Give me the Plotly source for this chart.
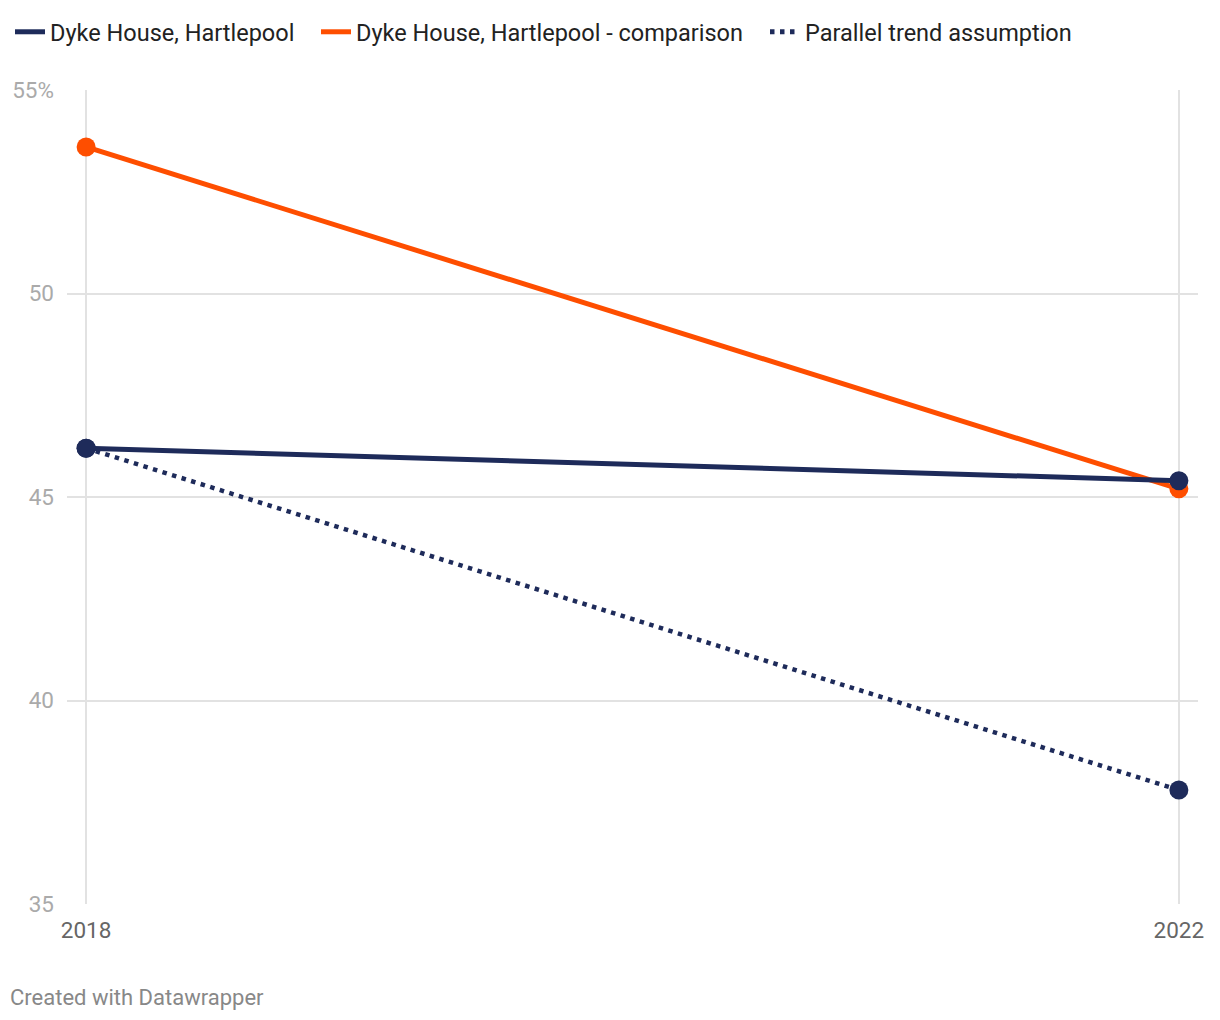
import plotly.graph_objects as go

years = [2018, 2022]
dyke_house = [46.2, 45.4]
comparison = [53.6, 45.2]
parallel_trend = [46.2, 37.8]

series_names = ["Dyke House, Hartlepool", "Dyke House, Hartlepool - comparison",
                "Parallel trend assumption"]
y_ticks = [35, 40, 45, 50, 55]
y_tick_labels = ["35", "40", "45", "50", "55%"]
x_tick_labels = ["2018", "2022"]

NAVY = "#1e2b5a"
ORANGE = "#fe4e00"

styles = [
    (dyke_house, NAVY, 5, "solid"),
    (comparison, ORANGE, 5, "solid"),
    (parallel_trend, NAVY, 4.5, "4.5px,5.5px"),
]

fig = go.Figure()
# data traces (no legend); draw order: comparison, parallel, dyke house on top
for idx in [1, 2, 0]:
    vals, col, w, dash = styles[idx]
    fig.add_trace(go.Scatter(
        x=years, y=vals, mode="lines+markers", showlegend=False,
        line=dict(color=col, width=w, dash=dash),
        marker=dict(size=19, color=col), cliponaxis=False))
# legend entries (line only), each in its own legend for exact placement
legend_ids = ["legend", "legend2", "legend3"]
for idx, name in enumerate(series_names):
    vals, col, w, dash = styles[idx]
    fig.add_trace(go.Scatter(
        x=[None], y=[None], mode="lines", name=name, legend=legend_ids[idx],
        line=dict(color=col, width=5, dash=dash)))

legend_x = [2, 308, 757]
leg_common = dict(orientation="h", xref="container", xanchor="left",
                  y=1 - 24/1020, yref="container", yanchor="middle",
                  itemwidth=30, bgcolor="rgba(0,0,0,0)",
                  font=dict(size=23.5, color="#222222"))

fig.update_layout(
    width=1220, height=1020,
    margin=dict(l=59, r=30, t=82, b=124),
    paper_bgcolor="white", plot_bgcolor="white",
    font=dict(family="Roboto", color="#222222"),
    showlegend=True,
    legend=dict(x=legend_x[0]/1220, **leg_common),
    legend2=dict(x=legend_x[1]/1220, **leg_common),
    legend3=dict(x=legend_x[2]/1220, **leg_common),
    xaxis=dict(range=[2017.93, 2022.07], tickvals=years, ticktext=x_tick_labels,
               showgrid=True, gridcolor="#e2e2e2", gridwidth=2, zeroline=False,
               showline=False, ticks="", tickfont=dict(size=22.5, color="#666666"),
               ticklabelstandoff=10, automargin=False),
    yaxis=dict(range=[35, 55], tickvals=y_ticks, ticktext=y_tick_labels,
               showgrid=True, gridcolor="#e2e2e2", gridwidth=2, zeroline=False,
               showline=False, ticks="", tickfont=dict(size=22.5, color="#aaaaaa"),
               ticklabelstandoff=12, automargin=False),
)

fig.add_annotation(text="Created with Datawrapper", xref="paper", yref="paper",
                   x=-59/1131, y=-93/814, xanchor="left", yanchor="middle",
                   showarrow=False, font=dict(size=22, color="#888888"))

fig.write_html("out.html")
